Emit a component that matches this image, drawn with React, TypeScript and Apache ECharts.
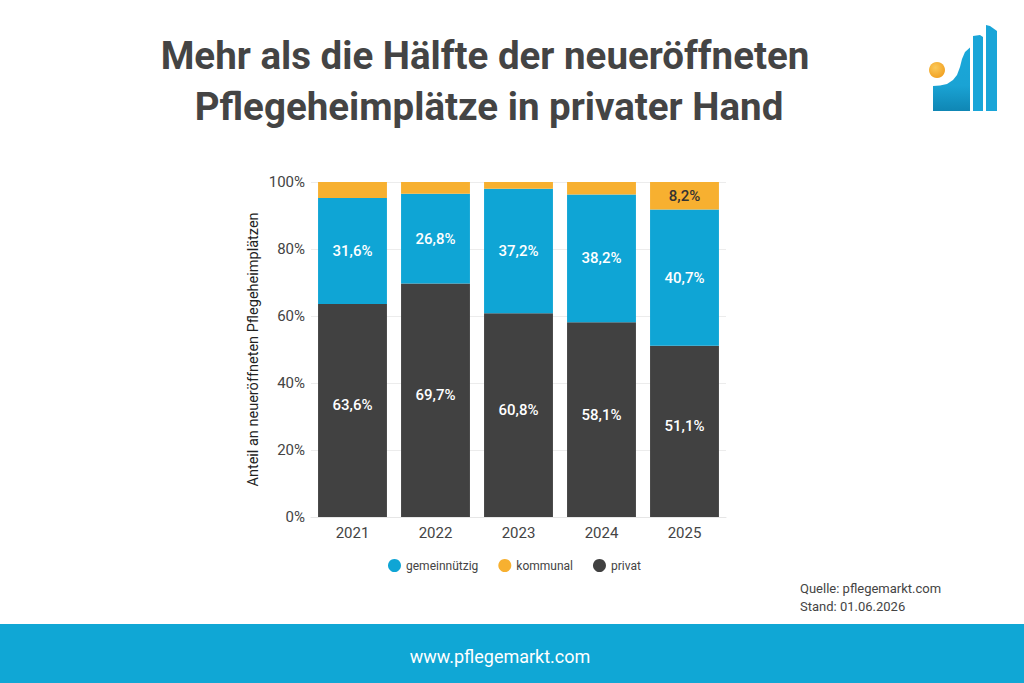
import React, { useEffect, useRef } from "react";
import * as echarts from "echarts";

const years = ["2021", "2022", "2023", "2024", "2025"];
const privat = [63.6, 69.7, 60.8, 58.1, 51.1];
const gemeinnuetzig = [31.6, 26.8, 37.2, 38.2, 40.7];
const kommunal = [4.8, 3.5, 2.0, 3.7, 8.2];
const yTicks = [0, 20, 40, 60, 80, 100];

const BLUE = "#0fa5d5";
const ORANGE = "#f7b030";
const DARK = "#414141";
const TEXT = "#444444";
const FONT = "Roboto, 'Noto Sans', sans-serif";

const fmt = (v: number) => v.toFixed(1).replace(".", ",") + "%";

export default function App() {
  const ref = useRef<HTMLDivElement>(null);
  useEffect(() => {
    document.body.style.margin = "0";
    const chart = echarts.init(ref.current!, null, { renderer: "svg" });
    const labelBase = {
      show: true,
      position: "inside" as const,
      fontFamily: FONT,
      fontSize: 15,
      fontWeight: 500,
    };
    chart.setOption({
      animation: false,
      backgroundColor: "#ffffff",
      textStyle: { fontFamily: FONT },
      grid: { left: 311, right: 298, top: 182, bottom: 166, containLabel: false },
      legend: {
        data: ["gemeinnützig", "kommunal", "privat"],
        left: 383,
        top: 554,
        icon: "circle",
        itemWidth: 13,
        itemHeight: 13,
        itemGap: 20,
        textStyle: { color: TEXT, fontSize: 12, fontFamily: FONT },
      },
      xAxis: {
        type: "category",
        data: years,
        axisLine: { show: true, lineStyle: { color: "#e6e6e6" } },
        axisTick: { show: false },
        axisLabel: { color: TEXT, fontSize: 15, fontFamily: FONT, margin: 8 },
      },
      yAxis: {
        type: "value",
        min: yTicks[0],
        max: yTicks[yTicks.length - 1],
        interval: 20,
        name: "Anteil an neueröffneten Pflegeheimplätzen",
        nameLocation: "middle",
        nameGap: 50,
        nameRotate: 90,
        nameTextStyle: { color: "#222", fontSize: 14.5, fontFamily: FONT },
        axisLabel: { formatter: "{value}%", color: TEXT, fontSize: 15, fontFamily: FONT, margin: 6 },
        splitLine: { lineStyle: { color: "#ececec" } },
        axisLine: { show: false },
        axisTick: { show: false },
      },
      series: [
        {
          name: "privat",
          type: "bar",
          stack: "total",
          data: privat,
          barCategoryGap: "17%",
          itemStyle: { color: DARK },
          label: { ...labelBase, color: "#ffffff", offset: [0, -5], formatter: (p: any) => fmt(p.value) },
        },
        {
          name: "gemeinnützig",
          type: "bar",
          stack: "total",
          data: gemeinnuetzig,
          barCategoryGap: "17%",
          itemStyle: { color: BLUE },
          label: { ...labelBase, color: "#ffffff", formatter: (p: any) => fmt(p.value) },
        },
        {
          name: "kommunal",
          type: "bar",
          stack: "total",
          data: kommunal,
          barCategoryGap: "17%",
          itemStyle: { color: ORANGE },
          label: {
            ...labelBase,
            color: "#333333",
            formatter: (p: any) => (p.value >= 5 ? fmt(p.value) : ""),
          },
        },
      ],
      graphic: [
        {
          type: "text",
          x: 485,
          y: 55,
          style: {
            text: "Mehr als die Hälfte der neueröffneten",
            font: `bold 38.5px ${FONT}`,
            fill: TEXT,
            align: "center",
            verticalAlign: "middle",
          },
        },
        {
          type: "text",
          x: 489,
          y: 106,
          style: {
            text: "Pflegeheimplätze in privater Hand",
            font: `bold 38.5px ${FONT}`,
            fill: TEXT,
            align: "center",
            verticalAlign: "middle",
          },
        },
        // logo
        {
          type: "polygon",
          shape: {
            points: [
              [933, 111], [933, 86], [940, 85.5], [947, 84], [953, 80], [957, 75],
              [960, 67], [962, 59], [965, 52], [970, 47.5], [970, 111],
            ],
          },
          style: {
            fill: new echarts.graphic.LinearGradient(0, 0, 0, 1, [
              { offset: 0, color: "#1aa8da" },
              { offset: 0.6, color: "#1aa3d4" },
              { offset: 1, color: "#0f86b4" },
            ]),
          },
        },
        {
          type: "polygon",
          shape: { points: [[973, 36], [980, 35], [983, 37], [983, 111], [973, 111]] },
          style: { fill: "#19a5d8" },
        },
        {
          type: "polygon",
          shape: { points: [[986, 25], [990, 26], [997, 31], [997, 111], [986, 111]] },
          style: { fill: "#19a5d8" },
        },
        {
          type: "circle",
          shape: { cx: 937, cy: 70, r: 8 },
          style: {
            fill: new echarts.graphic.RadialGradient(0.4, 0.35, 0.7, [
              { offset: 0, color: "#fbc95a" },
              { offset: 1, color: "#f1a020" },
            ]),
          },
        },
        // source
        {
          type: "text",
          x: 800,
          y: 588,
          style: {
            text: "Quelle: pflegemarkt.com",
            font: `13px ${FONT}`,
            fill: TEXT,
            verticalAlign: "middle",
          },
        },
        {
          type: "text",
          x: 800,
          y: 606,
          style: {
            text: "Stand: 01.06.2026",
            font: `13px ${FONT}`,
            fill: TEXT,
            verticalAlign: "middle",
          },
        },
        // footer
        {
          type: "rect",
          shape: { x: 0, y: 624, width: 1024, height: 59 },
          style: { fill: "#10a7d5" },
        },
        {
          type: "text",
          x: 500,
          y: 656,
          style: {
            text: "www.pflegemarkt.com",
            font: `18px ${FONT}`,
            fill: "#ffffff",
            align: "center",
            verticalAlign: "middle",
          },
        },
      ],
    });
    return () => chart.dispose();
  }, []);
  return <div ref={ref} style={{ width: 1024, height: 683 }} />;
}
